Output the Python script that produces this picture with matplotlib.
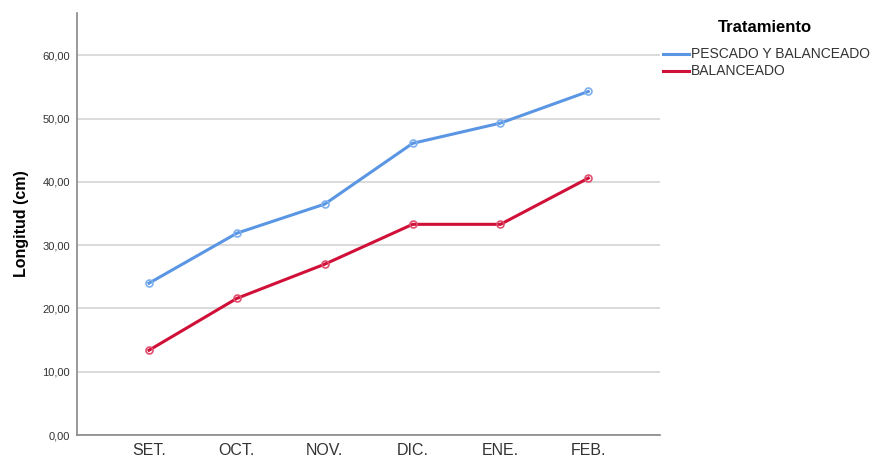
import matplotlib.pyplot as plt
from matplotlib.lines import Line2D

plt.rcParams['font.family'] = ['Liberation Sans', 'DejaVu Sans']

meses = ['SET.', 'OCT.', 'NOV.', 'DIC.', 'ENE.', 'FEB.']
pescado_balanceado = [24.0, 31.9, 36.5, 46.1, 49.3, 54.3]
balanceado = [13.4, 21.6, 27.0, 33.3, 33.3, 40.6]
series = ['PESCADO Y BALANCEADO', 'BALANCEADO']

azul = '#5a96e3'
rojo = '#d01038'

fig = plt.figure(figsize=(8.72, 4.58), dpi=100)
ax = fig.add_axes([0.0883, 0.0502, 0.669, 0.9214])

x = range(len(meses))
ax.plot(x, pescado_balanceado, color=azul, lw=2.2, marker='o', ms=5,
        mfc='none', mec='#7fb0ee', mew=1.2, zorder=3)
ax.plot(x, balanceado, color=rojo, lw=2.2, marker='o', ms=5,
        mfc='none', mec='#e0506e', mew=1.2, zorder=3)

ax.set_xlim(-0.82, 5.82)
ax.set_ylim(0, 66.7)
ax.set_yticks(range(0, 61, 10))
ax.set_yticklabels(['%d,00' % v for v in range(0, 61, 10)], fontsize=8, color='#333333')
ax.set_xticks(list(x))
ax.set_xticklabels(meses, fontsize=11.5, color='#333333')
ax.tick_params(axis='both', length=0, pad=5)
ax.tick_params(axis='x', pad=6)
ax.yaxis.grid(True, color='#d4d4d4', lw=1.2)
ax.set_axisbelow(True)
for s in ['top', 'right']:
    ax.spines[s].set_visible(False)
for s in ['left', 'bottom']:
    ax.spines[s].set_color('#888888')
    ax.spines[s].set_linewidth(1.2)
ax.set_ylabel('Longitud (cm)', fontsize=11.5, fontweight='bold', labelpad=10)

# leyenda dibujada a mano (posiciones en pixeles de la figura)
W, H = 872, 458
fig.text(765 / W, 1 - 28 / H, 'Tratamiento', ha='center', va='center',
         fontsize=12, fontweight='bold')
for i, (nombre, col) in enumerate(zip(series, [azul, rojo])):
    yy = 1 - (54 + 17 * i) / H
    fig.add_artist(Line2D([663 / W, 689 / W], [yy, yy], color=col, lw=2.2))
    fig.text(691 / W, yy, nombre, ha='left', va='center', fontsize=10, color='#333333')

fig.savefig('out.png', dpi=100)
